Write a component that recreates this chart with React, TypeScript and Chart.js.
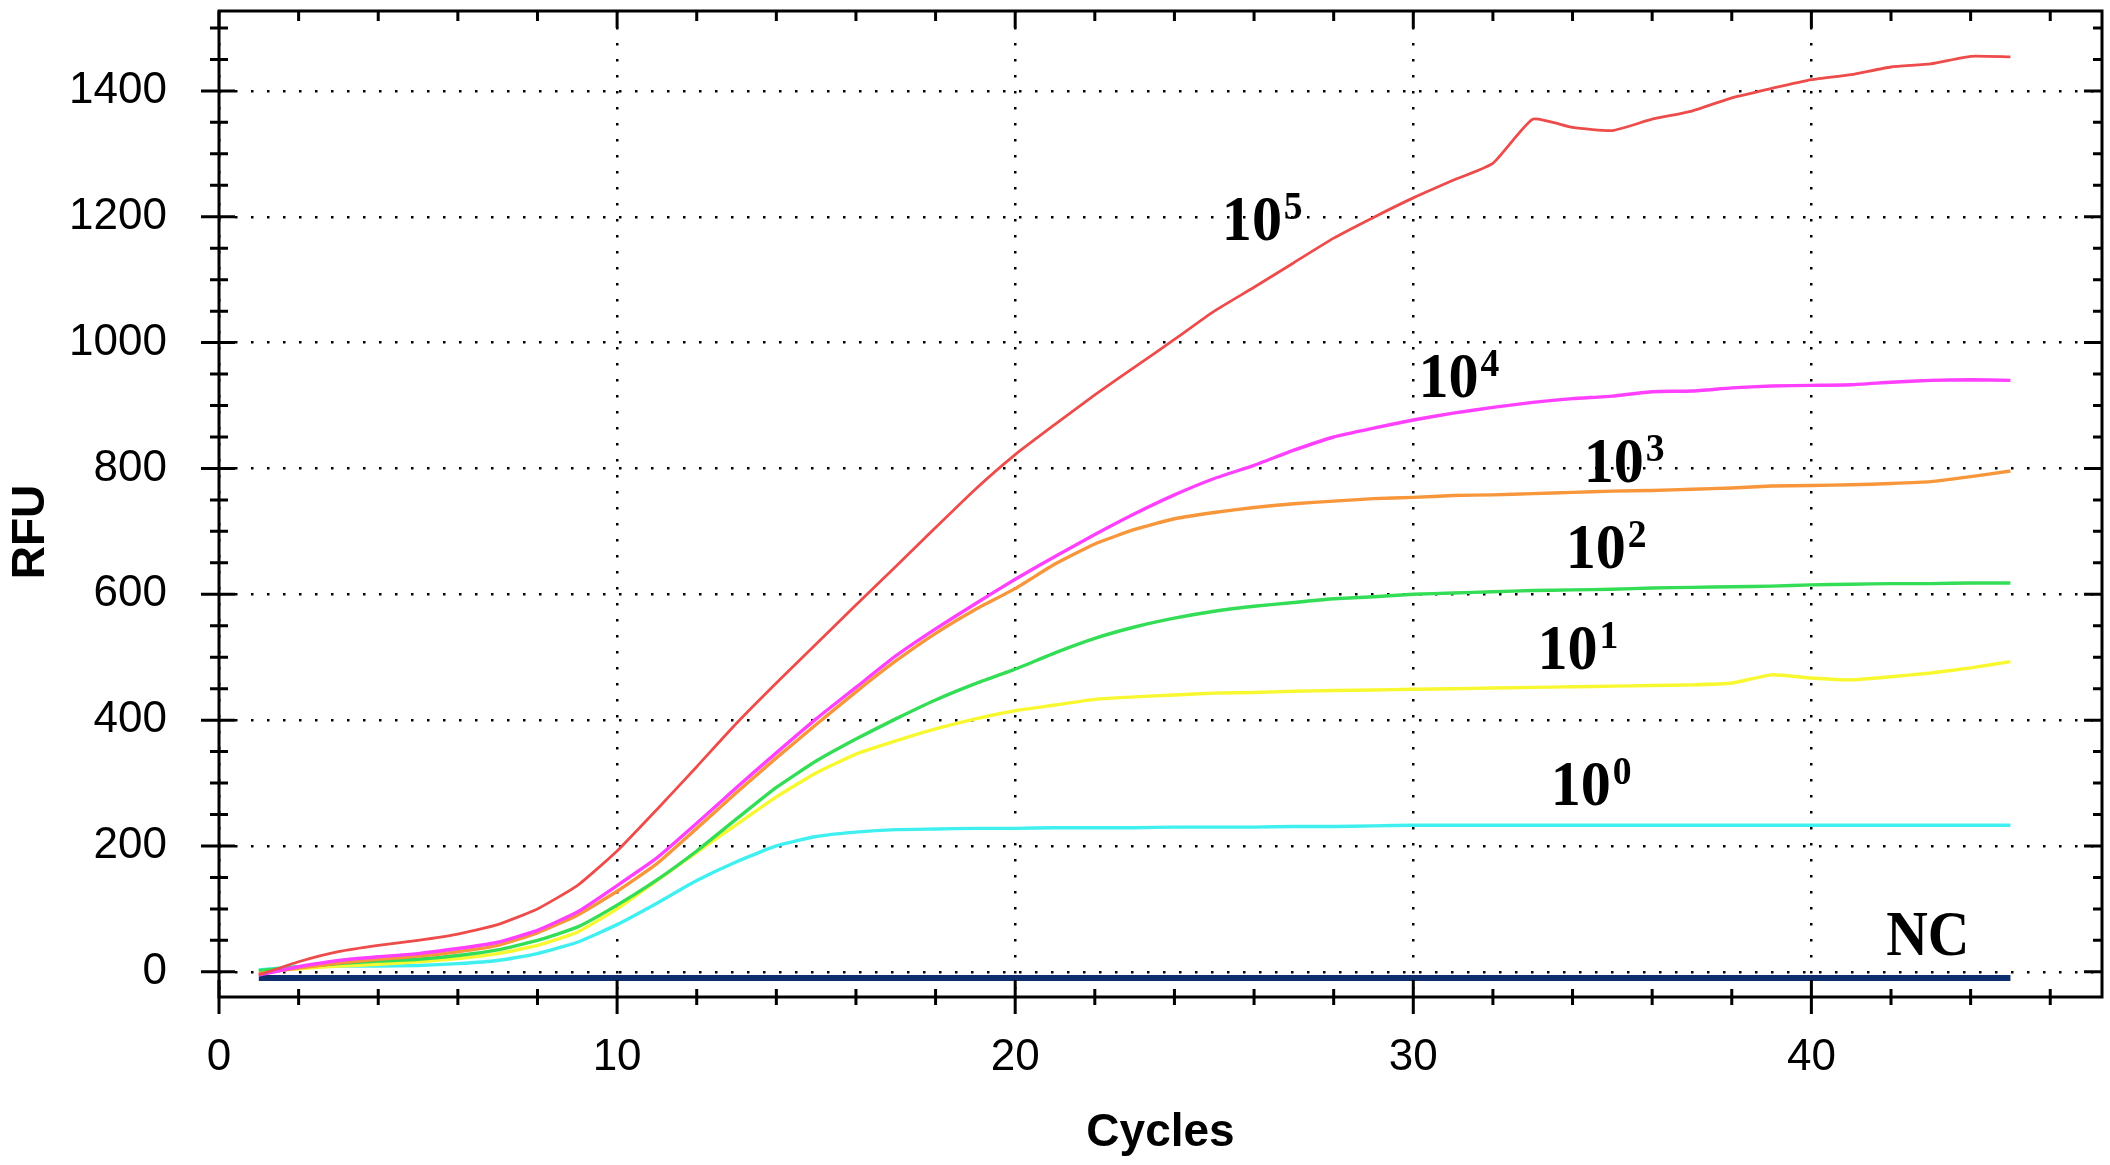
import React, { useRef, useEffect } from "react";
import { Chart, registerables } from "chart.js";

Chart.register(...registerables);

const CYCLES = [
    1, 2, 3, 4, 5, 6, 7, 8, 9, 10, 11, 12, 13, 14, 15, 16, 17, 18, 19, 20, 21, 22, 23,
    24, 25, 26, 27, 28, 29, 30, 31, 32, 33, 34, 35, 36, 37, 38, 39, 40, 41, 42, 43, 44, 45,
];

// 10^5
const RFU_E5 = [
    -5, 16, 32, 42, 50, 60, 75, 100, 137, 192, 258, 326, 395, 459, 521, 583, 644, 706, 767,
    822, 870, 917, 961, 1005, 1050, 1088, 1127, 1166, 1199, 1230, 1258, 1285, 1355, 1342,
    1337, 1355, 1368, 1389, 1404, 1418, 1426, 1438, 1443, 1455, 1454,
];
// 10^4
const RFU_E4 = [
    -5, 8, 18, 24, 29, 37, 47, 66, 95, 137, 181, 236, 293, 348, 402, 452, 502, 545, 585,
    624, 660, 695, 728, 758, 784, 805, 829, 850, 864, 877, 888, 897, 905, 911, 915, 922,
    923, 928, 931, 932, 933, 937, 940, 941, 940,
];
// 10^3
const RFU_E3 = [
    -3, 6, 14, 20, 25, 32, 42, 62, 90, 128, 172, 228, 285, 340, 393, 445, 494, 538, 576,
    609, 648, 680, 703, 720, 730, 738, 744, 748, 752, 754, 757, 758, 760, 762, 764, 765,
    767, 769, 772, 773, 774, 776, 779, 787, 796,
];
// 10^2
const RFU_E2 = [
    2, 8, 13, 17, 20, 26, 35, 50, 71, 106, 146, 192, 243, 293, 335, 370, 402, 432, 458,
    481, 507, 530, 548, 562, 573, 581, 587, 593, 596, 600, 602, 604, 606, 607, 608, 610,
    611, 612, 613, 615, 616, 617, 617, 618, 618,
];
// 10^1
const RFU_E1 = [
    1, 5, 9, 12, 16, 21, 29, 42, 63, 100, 145, 190, 234, 278, 316, 346, 367, 386, 402,
    415, 424, 433, 437, 440, 443, 444, 446, 447, 448, 449, 450, 451, 452, 453, 454, 455,
    456, 459, 472, 467, 464, 469, 475, 483, 493,
];
// 10^0
const RFU_E0 = [
    3, 8, 9, 9, 10, 13, 18, 29, 47, 75, 109, 145, 175, 200, 215, 222, 226, 227, 228, 228,
    229, 229, 229, 230, 230, 230, 231, 231, 232, 233, 233, 233, 233, 233, 233, 233, 233,
    233, 233, 233, 233, 233, 233, 233, 233,
];
// negative control
const RFU_NC = [
    -10, -10, -10, -10, -10, -10, -10, -10, -10, -10, -10, -10, -10, -10, -10, -10, -10,
    -10, -10, -10, -10, -10, -10, -10, -10, -10, -10, -10, -10, -10, -10, -10, -10, -10,
    -10, -10, -10, -10, -10, -10, -10, -10, -10, -10, -10,
];

const X_LABELS = [0, 10, 20, 30, 40];
const Y_LABELS = [0, 200, 400, 600, 800, 1000, 1200, 1400];

const CURVE_LABELS = [
    { base: "10", exp: "5", x: 25.19, y: 1163 },
    { base: "10", exp: "4", x: 30.13, y: 913 },
    { base: "10", exp: "3", x: 34.28, y: 778 },
    { base: "10", exp: "2", x: 33.83, y: 641 },
    { base: "10", exp: "1", x: 33.12, y: 481 },
    { base: "10", exp: "0", x: 33.45, y: 265 },
    { base: "NC", exp: "", x: 41.88, y: 26 },
];

const toPoints = (values: number[]) => CYCLES.map((c, i) => ({ x: c, y: values[i] }));

// frame, tick marks, curve labels and the y title
const decorPlugin = {
    id: "decor",
    afterDraw(chart: any) {
        const { ctx, chartArea: a, scales } = chart;
        const xs = scales.x;
        const ys = scales.y;
        ctx.save();
        ctx.strokeStyle = "#000";
        ctx.lineWidth = 3;
        ctx.strokeRect(a.left, a.top, a.right - a.left, a.bottom - a.top);

        ctx.beginPath();
        for (let v = 0; v <= 1500; v += 50) {
            const p = ys.getPixelForValue(v);
            const major = v % 200 === 0;
            ctx.moveTo(a.left - (major ? 18 : 9), p);
            ctx.lineTo(a.left + (major ? 16 : 9), p);
            ctx.moveTo(a.right - (major ? 18 : 9), p);
            ctx.lineTo(a.right, p);
        }
        for (let v = 0; v <= 46; v += 2) {
            const p = xs.getPixelForValue(v);
            const major = v % 10 === 0;
            ctx.moveTo(p, a.bottom - (major ? 17 : 8));
            ctx.lineTo(p, a.bottom + (major ? 17 : 8));
            ctx.moveTo(p, a.top);
            ctx.lineTo(p, a.top + (major ? 17 : 10));
        }
        ctx.stroke();

        ctx.fillStyle = "#000";
        ctx.textAlign = "left";
        ctx.textBaseline = "alphabetic";
        for (const l of CURVE_LABELS) {
            ctx.save();
            ctx.translate(xs.getPixelForValue(l.x), ys.getPixelForValue(l.y));
            ctx.scale(l.exp ? 0.94 : 0.9, 1);
            ctx.font = "bold 64px 'Liberation Serif'";
            ctx.fillText(l.base, 0, 0);
            if (l.exp) {
                const w = ctx.measureText(l.base).width;
                ctx.font = "bold 40px 'Liberation Serif'";
                ctx.fillText(l.exp, w + 2, -21);
            }
            ctx.restore();
        }

        ctx.translate(a.left - 188, (a.top + a.bottom) / 2 + 28);
        ctx.rotate(-Math.PI / 2);
        ctx.font = "bold 46px 'Liberation Sans'";
        ctx.textAlign = "center";
        ctx.textBaseline = "middle";
        ctx.fillText("RFU", 0, 0);
        ctx.restore();
    },
};

const series = [
    { data: RFU_E5, color: "#ee4b4b", width: 2.8 },
    { data: RFU_E4, color: "#ff40ff", width: 3.4 },
    { data: RFU_E3, color: "#f7963a", width: 3.4 },
    { data: RFU_E2, color: "#33dd55", width: 3.4 },
    { data: RFU_E1, color: "#f8f830", width: 3.4 },
    { data: RFU_E0, color: "#40f0f0", width: 3.4 },
    { data: RFU_NC, color: "#0d2f6e", width: 6 },
];

const App = () => {
    const chartRef = useRef<HTMLCanvasElement>(null);

    useEffect(() => {
        const ctx = chartRef.current?.getContext("2d");
        if (!ctx) return;

        const gridOpts = { color: "#000", lineWidth: 2.5, drawTicks: false };
        const tickFont = { family: "'Liberation Sans'", size: 44 };

        const chart = new Chart(ctx, {
            type: "line",
            data: {
                datasets: series.map((s) => ({
                    data: toPoints(s.data),
                    borderColor: s.color,
                    backgroundColor: "transparent",
                    borderWidth: s.width,
                    pointRadius: 0,
                    tension: 0.15,
                })),
            },
            options: {
                animation: false,
                responsive: true,
                maintainAspectRatio: false,
                layout: { padding: { top: 11, right: 8, left: 0, bottom: 0 } },
                plugins: {
                    legend: { display: false },
                    tooltip: { enabled: false },
                },
                scales: {
                    x: {
                        type: "linear",
                        min: 0,
                        max: 47.3,
                        grid: gridOpts,
                        border: { display: false, dash: [2.5, 13.5] },
                        ticks: {
                            stepSize: 10,
                            color: "#000",
                            padding: 34,
                            font: tickFont,
                            maxRotation: 0,
                            callback: (v: any) => String(v),
                        },
                        title: {
                            display: true,
                            text: "Cycles",
                            color: "#000",
                            font: { family: "'Liberation Sans'", size: 46, weight: "bold" },
                            padding: { top: 0, bottom: 4 },
                        },
                        afterBuildTicks: (scale: any) => {
                            scale.ticks = X_LABELS.map((v) => ({ value: v }));
                        },
                        afterFit: (scale: any) => {
                            scale.height = 168;
                            scale.paddingLeft = 0;
                            scale.paddingRight = 0;
                        },
                    },
                    y: {
                        type: "linear",
                        min: -40,
                        max: 1527,
                        grid: gridOpts,
                        border: { display: false, dash: [2.5, 13.5] },
                        ticks: {
                            stepSize: 200,
                            color: "#000",
                            padding: 52,
                            font: tickFont,
                            callback: (v: any) => String(v),
                        },
                        afterBuildTicks: (scale: any) => {
                            scale.ticks = Y_LABELS.map((v) => ({ value: v }));
                        },
                        afterFit: (scale: any) => {
                            scale.width = 219;
                            scale.paddingTop = 0;
                            scale.paddingBottom = 0;
                        },
                    },
                },
            },
            plugins: [decorPlugin],
        });

        return () => {
            chart.destroy();
        };
    }, []);

    return (
        <div
            style={{
                position: "fixed",
                left: 0,
                top: 0,
                width: 2110,
                height: 1165,
                background: "#fff",
            }}
        >
            <canvas ref={chartRef}></canvas>
        </div>
    );
};

export default App;
